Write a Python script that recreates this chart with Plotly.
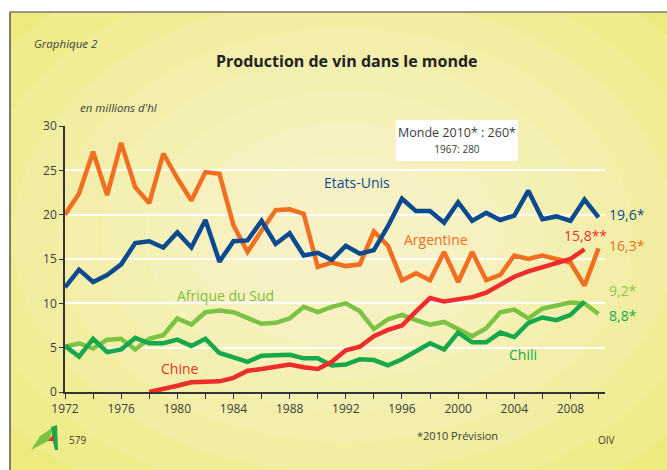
import plotly.graph_objects as go

# Production de vin (millions d'hl)
annees = list(range(1972, 2011))
annees_chine = list(range(1978, 2010))
annees_chili = list(range(1972, 2010))

etats_unis = [11.8, 13.8, 12.4, 13.2, 14.4, 16.8, 17.0, 16.3, 18.0, 16.3,
              19.4, 14.7, 17.0, 17.1, 19.3, 16.7, 17.9, 15.4, 15.7, 14.9,
              16.5, 15.6, 16.0, 18.7, 21.8, 20.4, 20.4, 19.1, 21.4, 19.3,
              20.2, 19.4, 19.9, 22.7, 19.5, 19.8, 19.3, 21.7, 19.7]
argentine = [20.0, 22.4, 27.1, 22.2, 28.1, 23.1, 21.3, 26.9, 24.1, 21.6,
             24.8, 24.6, 18.8, 15.8, 18.2, 20.5, 20.6, 20.1, 14.1, 14.6,
             14.2, 14.4, 18.1, 16.5, 12.6, 13.4, 12.6, 15.8, 12.4, 15.8,
             12.6, 13.2, 15.4, 15.0, 15.4, 15.0, 14.6, 12.0, 16.2]
afrique_du_sud = [5.1, 5.5, 4.9, 5.9, 6.0, 4.8, 6.0, 6.4, 8.3, 7.6,
                  9.0, 9.2, 9.0, 8.3, 7.7, 7.8, 8.3, 9.6, 9.0, 9.6,
                  10.0, 9.1, 7.1, 8.2, 8.7, 8.1, 7.6, 7.9, 7.1, 6.3,
                  7.2, 9.0, 9.3, 8.3, 9.4, 9.7, 10.1, 10.0, 8.8]
chili = [5.2, 4.0, 6.0, 4.5, 4.8, 6.1, 5.5, 5.5, 5.9, 5.2,
         6.0, 4.4, 3.9, 3.4, 4.1, 4.1, 4.2, 3.8, 3.8, 3.0,
         3.1, 3.7, 3.6, 3.0, 3.7, 4.6, 5.5, 4.8, 6.7, 5.6,
         5.6, 6.7, 6.2, 7.8, 8.4, 8.1, 8.7, 10.2]
chine = [0.0, 0.3, 0.7, 1.1, 1.2, 1.2, 1.6, 2.4, 2.6, 2.8,
         3.1, 2.8, 2.6, 3.4, 4.7, 5.1, 6.3, 7.0, 7.5, 9.1,
         10.6, 10.2, 10.4, 10.7, 11.2, 12.1, 13.0, 13.6, 14.1, 14.6,
         15.0, 16.1]

x_ticks = list(range(1972, 2011, 2))
x_labels = [str(a) if (a - 1972) % 4 == 0 else "" for a in x_ticks]
y_ticks = [0, 5, 10, 15, 20, 25, 30]

BLEU = "#0b4a8f"
ORANGE = "#f26f21"
VERT_CLAIR = "#7cc243"
VERT = "#16a84a"
ROUGE = "#ee2c2c"
GRIS = "#3d3d3d"
FONT = "Open Sans"

# zone de tracé en pixels
L, R, T, B = 65, 605, 126, 392
W, H = 667, 470


def fx(px):
    return (px - L) / (R - L)


def fy(py):
    return (B - py) / (B - T)


fig = go.Figure()

series = [
    ("Afrique du Sud", annees, afrique_du_sud, VERT_CLAIR),
    ("Chili", annees_chili, chili, VERT),
    ("Argentine", annees, argentine, ORANGE),
    ("Chine", annees_chine, chine, ROUGE),
    ("Etats-Unis", annees, etats_unis, BLEU),
]
for nom, xs, ys, col in series:
    fig.add_trace(go.Scatter(x=xs, y=ys, mode="lines", name=nom,
                             line=dict(color=col, width=4.5),
                             showlegend=False))

# fond : dégradé radial jaune
shapes = []
for r in [420, 380, 340, 300, 265, 230, 195, 160, 125, 90]:
    cx, cy = 345, 235
    shapes.append(dict(type="circle", xref="paper", yref="paper", layer="below",
                       x0=fx(cx - r * 1.25), x1=fx(cx + r * 1.25),
                       y0=fy(cy + r * 0.9), y1=fy(cy - r * 0.9),
                       fillcolor="#fdfbe6", opacity=0.13, line=dict(width=0)))
# bandes blanches hors cadre
shapes.append(dict(type="rect", xref="paper", yref="paper", layer="below",
                   x0=fx(-5), x1=fx(W + 5), y0=fy(12), y1=fy(-5),
                   fillcolor="white", line=dict(width=0)))
shapes.append(dict(type="rect", xref="paper", yref="paper", layer="below",
                   x0=fx(-5), x1=fx(10), y0=fy(H + 5), y1=fy(-5),
                   fillcolor="white", line=dict(width=0)))
# bord du cadre
shapes.append(dict(type="line", xref="paper", yref="paper", layer="below",
                   x0=fx(10), x1=fx(W + 5), y0=fy(12), y1=fy(12),
                   line=dict(color="#7a7a6a", width=1.5)))
shapes.append(dict(type="line", xref="paper", yref="paper", layer="below",
                   x0=fx(10), x1=fx(10), y0=fy(12), y1=fy(H + 5),
                   line=dict(color="#55554a", width=1.5)))
# encadré "Monde"
shapes.append(dict(type="rect", xref="paper", yref="paper", layer="above",
                   x0=fx(396), x1=fx(518), y0=fy(161), y1=fy(120),
                   fillcolor="white", line=dict(width=0)))


# logo
def path(pts):
    return "M " + " L ".join(f"{fx(a):.4f},{fy(b):.4f}" for a, b in pts) + " Z"


shapes.append(dict(type="path", xref="paper", yref="paper", layer="above",
                   path=path([(31, 450), (40, 436), (52, 428), (50, 440)]),
                   fillcolor="#7cc243", line=dict(width=0)))
shapes.append(dict(type="path", xref="paper", yref="paper", layer="above",
                   path=path([(51, 427), (57, 425), (58, 450), (55, 450), (53, 442)]),
                   fillcolor="#16a84a", line=dict(width=0)))
shapes.append(dict(type="path", xref="paper", yref="paper", layer="above",
                   path=path([(48, 441), (53, 435), (54, 441)]),
                   fillcolor="#ee2c2c", line=dict(width=0)))

annotations = [
    dict(text="Production de vin dans le monde", x=fx(347), y=fy(61),
         font=dict(size=16, color="#222222", family=FONT, weight="bold")),
    dict(text="<i>Graphique 2</i>", x=fx(32), y=fy(43), xanchor="left",
         font=dict(size=11.5, color=GRIS, family=FONT)),
    dict(text="<i>en millions d'hl</i>", x=fx(78), y=fy(108), xanchor="left",
         font=dict(size=11.5, color=GRIS, family=FONT)),
    dict(text="Monde 2010* : 260*<br><span style='font-size:10px'>1967: 280</span>",
         x=fx(457), y=fy(140),
         font=dict(size=12.5, color=GRIS, family=FONT)),
    dict(text="*2010 Prévision", x=fx(457), y=fy(436),
         font=dict(size=11, color=GRIS, family=FONT)),
    dict(text="579", x=fx(67), y=fy(440), xanchor="left",
         font=dict(size=10, color=GRIS, family=FONT)),
    dict(text="OIV", x=fx(606), y=fy(440),
         font=dict(size=10, color=GRIS, family=FONT)),
    # valeurs finales (hors de l'axe, donc en coordonnées papier)
    dict(text="19,6*", x=fx(607), y=fy(214), xanchor="left",
         font=dict(size=14, color=BLEU, family=FONT)),
    dict(text="16,3*", x=fx(607), y=fy(245), xanchor="left",
         font=dict(size=14, color=ORANGE, family=FONT)),
    dict(text="9,2*", x=fx(607), y=fy(290), xanchor="left",
         font=dict(size=14, color="#8cc84b", family=FONT)),
    dict(text="8,8*", x=fx(607), y=fy(315), xanchor="left",
         font=dict(size=14, color=VERT, family=FONT)),
]
for a in annotations:
    a.update(xref="paper", yref="paper", showarrow=False)
    a.setdefault("xanchor", "center")
    a["yanchor"] = "middle"

labels = [
    ("Etats-Unis", 1992.8, 23.6, BLEU),
    ("Argentine", 1998.4, 17.2, ORANGE),
    ("Afrique du Sud", 1983.4, 10.9, VERT_CLAIR),
    ("Chine", 1980.2, 2.7, ROUGE),
    ("Chili", 2004.6, 4.2, VERT),
    ("15,8**", 2009.1, 17.7, ROUGE),
]
for txt, x, y, col in labels:
    annotations.append(dict(text=txt, x=x, y=y, xref="x", yref="y",
                            xanchor="center", yanchor="middle", showarrow=False,
                            font=dict(size=14, color=col, family=FONT)))

fig.update_layout(
    width=W, height=H,
    margin=dict(l=L, r=W - R, t=T, b=H - B, pad=0),
    paper_bgcolor="#e9e95e",
    plot_bgcolor="rgba(0,0,0,0)",
    shapes=shapes,
    annotations=annotations,
    font=dict(family=FONT, color=GRIS, size=12),
    xaxis=dict(range=[1972, 2010.46], tickvals=x_ticks, ticktext=x_labels,
               showgrid=False, zeroline=False, showline=True,
               linecolor="#333333", linewidth=1.5, ticks="outside",
               ticklen=5, tickcolor="#333333", tickwidth=1.2,
               tickfont=dict(size=12, color=GRIS)),
    yaxis=dict(range=[0, 30], tickvals=y_ticks, showgrid=True,
               gridcolor="white", gridwidth=1.6, zeroline=False,
               showline=True, linecolor="#333333", linewidth=1.5,
               ticks="outside", ticklen=4, tickcolor="#333333",
               tickwidth=1.2, tickfont=dict(size=12, color=GRIS)),
)

fig.write_html("out.html", config={"displayModeBar": False},
               post_script="document.body.style.margin='0px';")
